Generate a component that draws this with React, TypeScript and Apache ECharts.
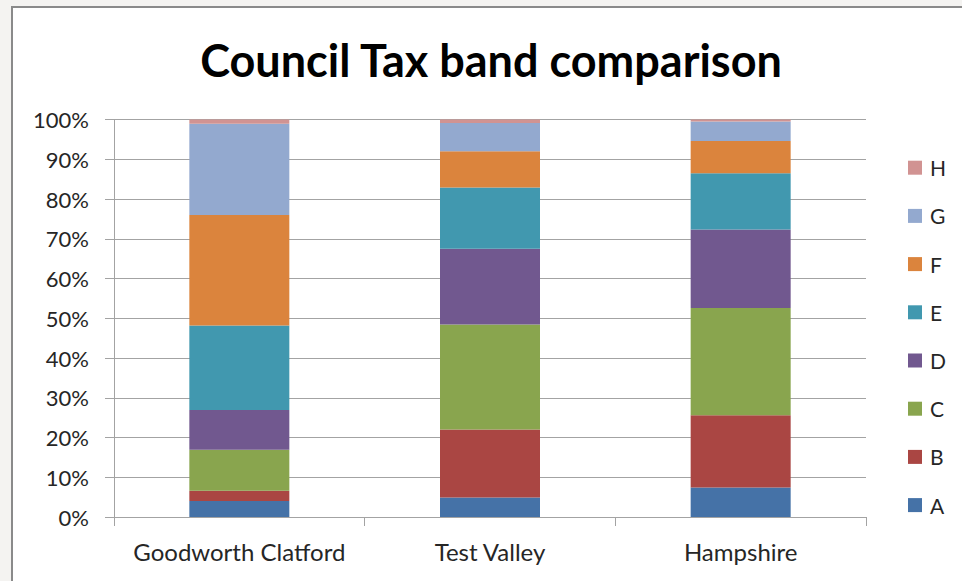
import React, { useEffect, useRef } from "react";
import * as echarts from "echarts";

const categories = ["Goodworth Clatford", "Test Valley", "Hampshire"];
const bands = ["A", "B", "C", "D", "E", "F", "G", "H"];
const bandA = [4.0, 4.9, 7.4];
const bandB = [2.6, 17.1, 18.2];
const bandC = [10.3, 26.4, 27.0];
const bandD = [10.0, 19.1, 19.7];
const bandE = [21.3, 15.4, 14.2];
const bandF = [27.8, 9.1, 8.1];
const bandG = [22.9, 7.1, 4.9];
const bandH = [1.1, 0.9, 0.5];
const bandValues = [bandA, bandB, bandC, bandD, bandE, bandF, bandG, bandH];
const colors = ["#4572A7", "#AA4643", "#89A54E", "#71588F", "#4198AF", "#DB843D", "#93A9CF", "#D19392"];

const FONT = "Lato";
const TEXT = "#262626";
const GRID = "#a3a3a3";

export default function App() {
  const ref = useRef<HTMLDivElement>(null);
  useEffect(() => {
    if (!ref.current) return;
    const chart = echarts.init(ref.current, null, { renderer: "svg" });
    chart.setOption({
      animation: false,
      title: {
        text: "Council Tax band comparison",
        left: 491,
        textAlign: "center",
        top: 37,
        padding: 0,
        textStyle: { fontFamily: FONT, fontWeight: "bold", fontSize: 45, color: "#000" },
      },
      legend: {
        orient: "vertical",
        left: 908,
        top: 157.2,
        padding: 0,
        itemWidth: 14,
        itemHeight: 14,
        itemGap: 27.2,
        data: [...bands].reverse(),
        icon: "rect",
        textStyle: { fontFamily: FONT, fontSize: 21, color: TEXT, padding: [0, 0, 0, 3] },
      },
      grid: { left: 114, right: 96, top: 119.5, bottom: 64 },
      xAxis: {
        type: "category",
        data: categories,
        axisLine: { show: true, lineStyle: { color: GRID, width: 1 } },
        axisTick: { show: true, length: 9, lineStyle: { color: GRID } },
        axisLabel: { fontFamily: FONT, fontSize: 24, color: TEXT, margin: 22, interval: 0 },
      },
      yAxis: {
        type: "value",
        min: 0,
        max: 100,
        interval: 10,
        axisLine: { show: true, lineStyle: { color: GRID, width: 1 } },
        axisTick: { show: true, length: 9, lineStyle: { color: GRID } },
        splitLine: { show: true, lineStyle: { color: GRID, width: 1 } },
        axisLabel: { fontFamily: FONT, fontSize: 22, color: TEXT, margin: 25, formatter: "{value}%" },
      },
      series: bands.map((b, i) => ({
        name: b,
        type: "bar",
        stack: "total",
        barWidth: 100,
        data: bandValues[i],
        itemStyle: { color: colors[i] },
      })),
    });
    return () => chart.dispose();
  }, []);
  return (
    <div style={{ position: "fixed", left: 0, top: 0, width: 962, height: 581, background: "#f4f3f1" }}>
      <div
        style={{
          position: "absolute",
          left: 11,
          top: 6,
          right: 0,
          bottom: 0,
          background: "#fff",
          borderLeft: "2px solid #8a8a8a",
          borderTop: "2px solid #8a8a8a",
        }}
      />
      <div ref={ref} style={{ position: "absolute", left: 0, top: 0, width: 962, height: 581 }} />
    </div>
  );
}
